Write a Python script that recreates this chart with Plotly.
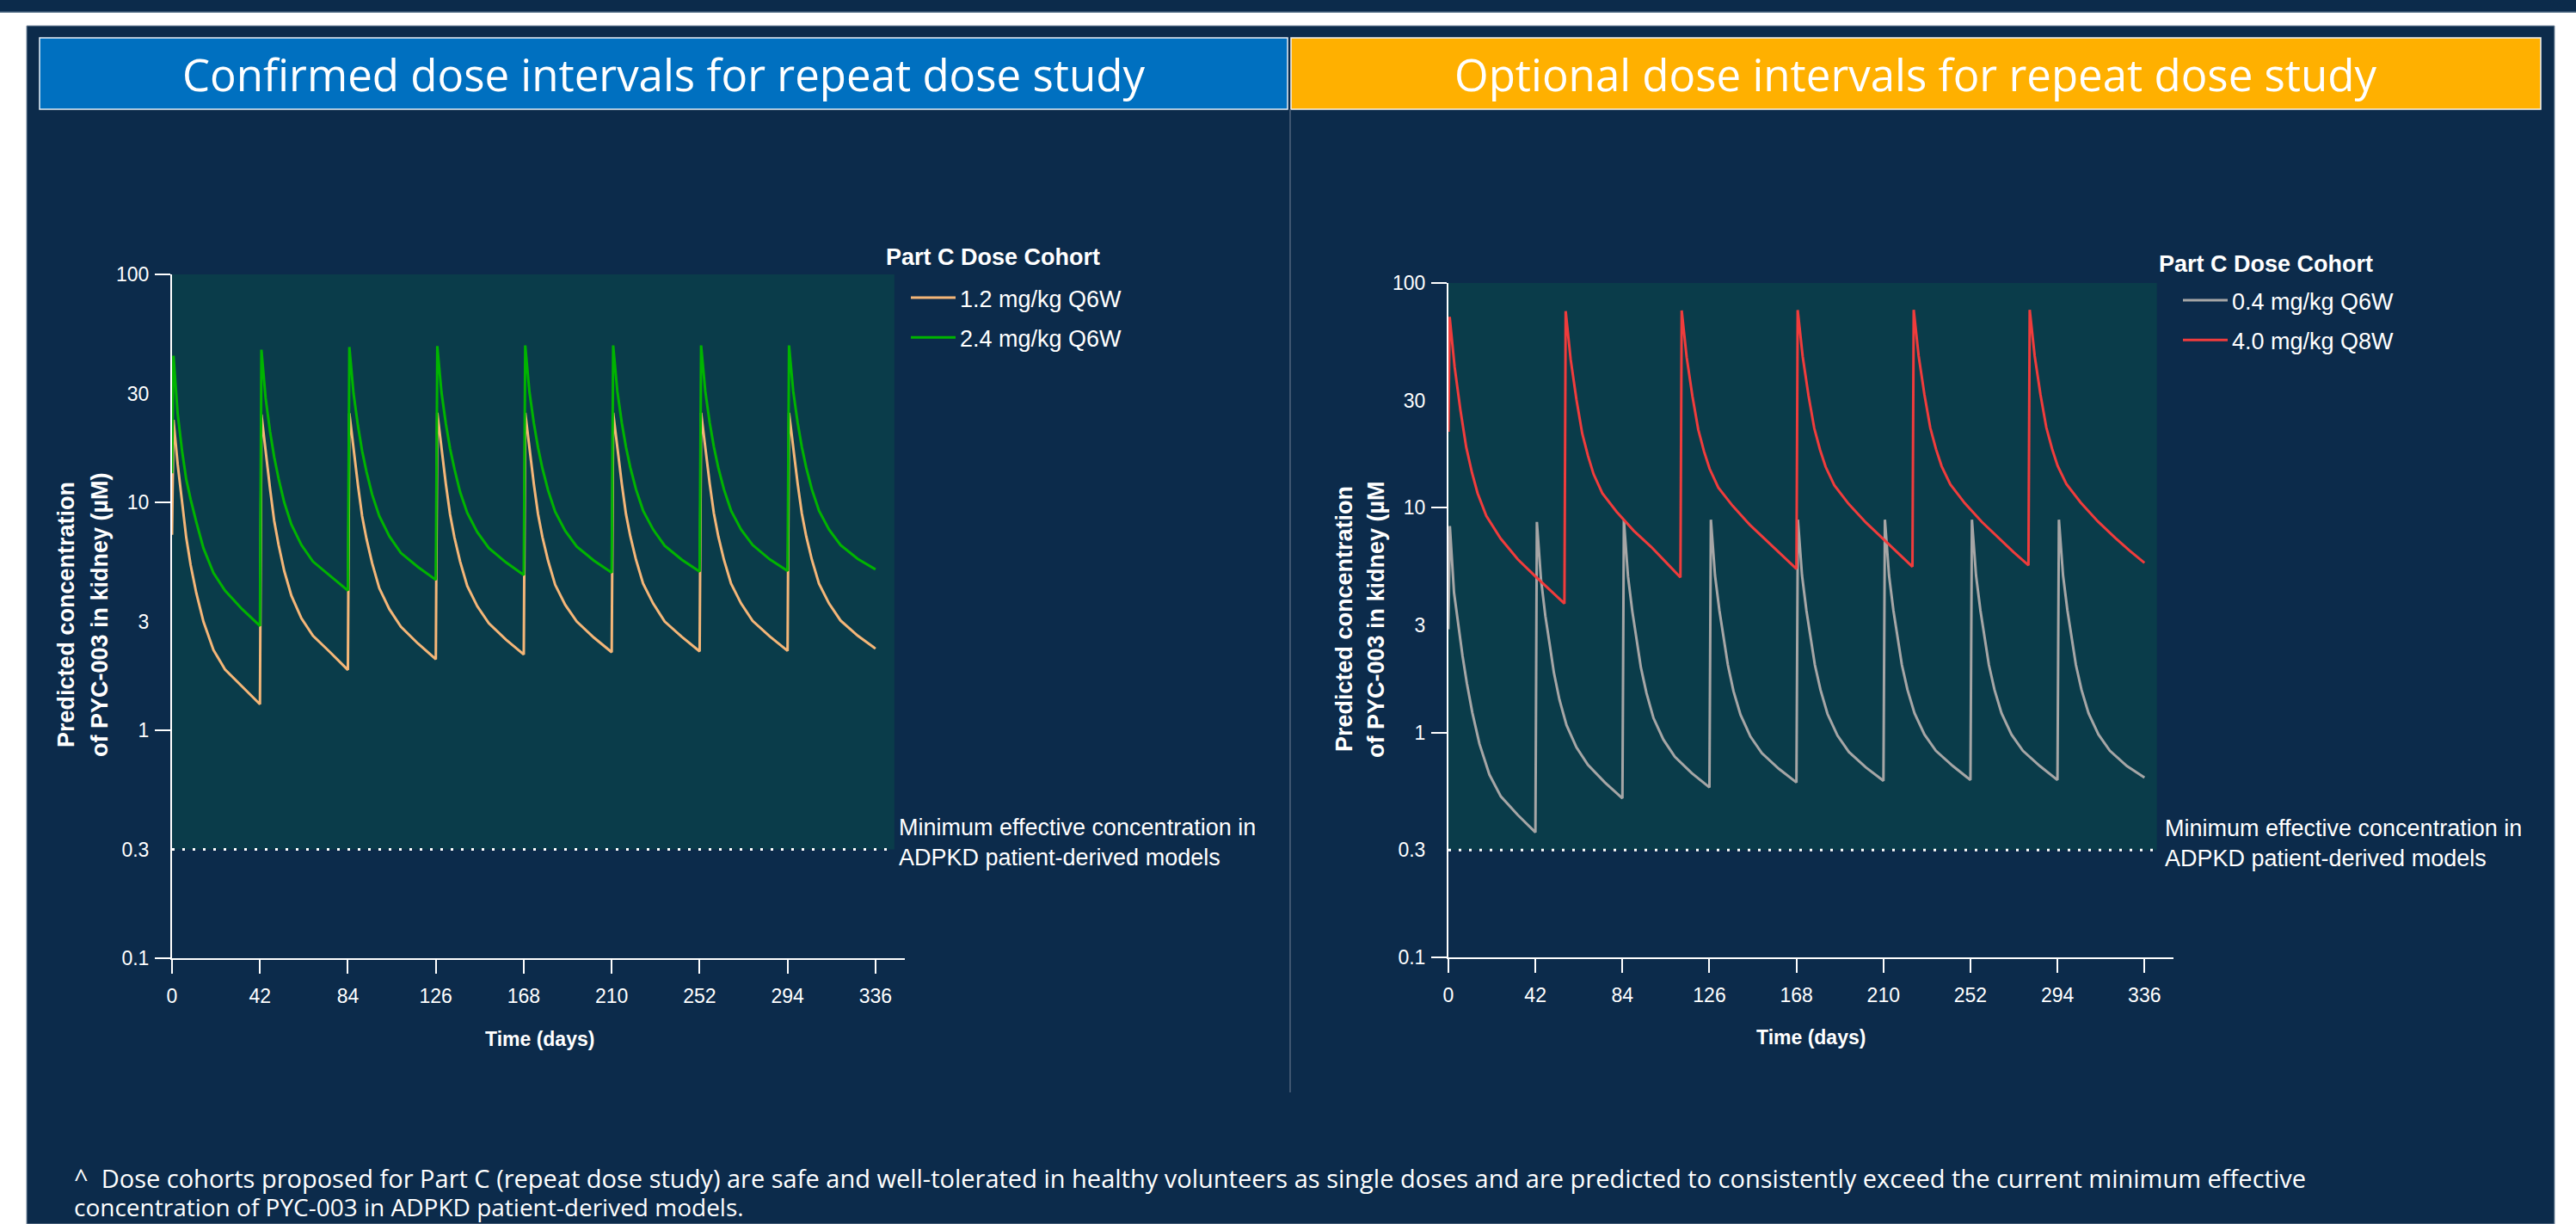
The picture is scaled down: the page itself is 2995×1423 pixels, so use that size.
import math
import plotly.graph_objects as go

W, H = 2995, 1423

# ---------------- data ----------------
X_TICKS = [0, 42, 84, 126, 168, 210, 252, 294, 336]
Y_TICKS = [0.1, 0.3, 1, 3, 10, 30, 100]
Y_TICK_TEXT = ["0.1", "0.3", "1", "3", "10", "30", "100"]
Y_MAJOR = [0.1, 1, 10, 100]
MEC = 0.3          # minimum effective concentration (uM)
Y_TOP = 100

Q6W_DOSE_DAYS = [0, 42, 84, 126, 168, 210, 252, 294]
Q8W_DOSE_DAYS = [0, 56, 112, 168, 224, 280]
Q6W_OFFSETS = [0.7, 2.7, 4.8, 6.8, 8.9, 11.6, 15.0, 19.8, 25.3, 33.5, 42.0]
Q8W_OFFSETS = [0.6, 3.0, 5.8, 8.6, 11.4, 14.1, 18.3, 25.2, 33.5, 41.9, 48.8, 56.0]

# 1.2 mg/kg Q6W
C12_START = 7.2
C12_CYCLES = [
    [23.0, 14.7, 10.0, 7.0, 5.3, 4.0, 3.0, 2.25, 1.85, 1.55, 1.30],
    [24.3, 16.5, 11.5, 8.3, 6.5, 5.0, 3.9, 3.1, 2.6, 2.2, 1.84],
    [24.6, 16.9, 11.9, 8.7, 6.9, 5.4, 4.2, 3.4, 2.85, 2.4, 2.05],
    [24.7, 17.0, 12.0, 8.85, 7.0, 5.5, 4.3, 3.5, 2.95, 2.5, 2.15],
    [24.7, 17.0, 12.05, 8.9, 7.05, 5.55, 4.35, 3.55, 3.0, 2.55, 2.20],
    [24.7, 17.05, 12.1, 8.9, 7.1, 5.6, 4.4, 3.6, 3.0, 2.57, 2.22],
    [24.7, 17.05, 12.1, 8.95, 7.1, 5.6, 4.4, 3.6, 3.02, 2.58, 2.23],
    [24.7, 17.05, 12.1, 8.95, 7.1, 5.6, 4.4, 3.6, 3.03, 2.6, 2.28],
]
# 2.4 mg/kg Q6W
C24_START = 13.4
C24_CYCLES = [
    [44.0, 24.5, 16.8, 12.6, 10.3, 8.2, 6.3, 4.9, 4.1, 3.4, 2.87],
    [46.7, 28.7, 20.5, 15.8, 12.7, 10.0, 8.0, 6.5, 5.5, 4.75, 4.1],
    [48.0, 30.0, 21.7, 16.8, 13.6, 10.8, 8.7, 7.1, 6.0, 5.2, 4.57],
    [48.5, 30.4, 22.1, 17.2, 14.0, 11.1, 9.0, 7.4, 6.3, 5.45, 4.8],
    [48.8, 30.6, 22.3, 17.4, 14.1, 11.3, 9.1, 7.5, 6.4, 5.55, 4.92],
    [48.8, 30.7, 22.4, 17.5, 14.2, 11.4, 9.2, 7.6, 6.45, 5.6, 4.97],
    [48.8, 30.7, 22.4, 17.5, 14.2, 11.4, 9.2, 7.6, 6.5, 5.62, 5.0],
    [48.8, 30.7, 22.4, 17.5, 14.2, 11.4, 9.2, 7.6, 6.5, 5.65, 5.08],
]
# 0.4 mg/kg Q6W
C04_START = 2.88
C04_CYCLES = [
    [8.3, 4.2, 2.95, 2.2, 1.66, 1.22, 0.89, 0.65, 0.52, 0.43, 0.36],
    [8.65, 4.8, 3.3, 2.5, 1.85, 1.40, 1.08, 0.86, 0.72, 0.60, 0.51],
    [8.8, 4.95, 3.45, 2.6, 1.95, 1.5, 1.16, 0.93, 0.78, 0.66, 0.57],
    [8.85, 5.0, 3.5, 2.65, 2.0, 1.53, 1.2, 0.96, 0.81, 0.69, 0.60],
    [8.85, 5.0, 3.5, 2.65, 2.0, 1.55, 1.21, 0.97, 0.82, 0.70, 0.61],
    [8.85, 5.0, 3.5, 2.65, 2.0, 1.55, 1.22, 0.98, 0.83, 0.71, 0.615],
    [8.85, 5.0, 3.5, 2.65, 2.0, 1.55, 1.22, 0.98, 0.83, 0.71, 0.615],
    [8.85, 5.0, 3.5, 2.65, 2.0, 1.55, 1.22, 0.98, 0.83, 0.71, 0.63],
]
# 4.0 mg/kg Q8W
C40_START = 21.8
C40_CYCLES = [
    [70.7, 42.3, 27.2, 18.6, 14.3, 11.6, 9.2, 7.3, 5.9, 4.96, 4.34, 3.75],
    [75.0, 45.8, 30.3, 21.4, 17.0, 14.1, 11.6, 9.6, 7.9, 6.7, 5.75, 4.9],
    [75.5, 46.8, 31.3, 22.3, 17.8, 14.9, 12.3, 10.2, 8.4, 7.1, 6.15, 5.35],
    [75.8, 47.2, 31.7, 22.6, 18.1, 15.2, 12.6, 10.4, 8.6, 7.25, 6.3, 5.47],
    [76.0, 47.3, 31.8, 22.7, 18.2, 15.3, 12.7, 10.5, 8.65, 7.3, 6.35, 5.55],
    [76.0, 47.4, 31.9, 22.8, 18.3, 15.35, 12.75, 10.55, 8.7, 7.35, 6.45, 5.69],
]

TEAL_END_LEFT = 345
TEAL_END_RIGHT = 342

# ---------------- styles ----------------
NAVY = "#0C2B4B"
TEAL = "#0A3C4A"
BLUE_HDR = "#0070C0"
GOLD_HDR = "#FFB000"
C_ORANGE = "#F4B678"
C_GREEN = "#00B400"
C_GRAY = "#A6A6A6"
C_RED = "#F03C3C"
SANS = "Liberation Sans, Arial, Helvetica, sans-serif"
HDR_FONT = "Open Sans, Noto Sans, sans-serif"
WHITE = "white"


def px_x(v):
    return v / W


def px_y(v):
    return 1 - v / H


def series(start, doses, offsets, cycles):
    xs, ys = [0], [start]
    for d, vals in zip(doses, cycles):
        for o, v in zip(offsets, vals):
            xs.append(d + o)
            ys.append(v)
    return xs, ys


fig = go.Figure()

TRACES = [
    ("1.2 mg/kg Q6W", C12_START, Q6W_DOSE_DAYS, Q6W_OFFSETS, C12_CYCLES, C_ORANGE, "x", "y", "legend"),
    ("2.4 mg/kg Q6W", C24_START, Q6W_DOSE_DAYS, Q6W_OFFSETS, C24_CYCLES, C_GREEN, "x", "y", "legend"),
    ("0.4 mg/kg Q6W", C04_START, Q6W_DOSE_DAYS, Q6W_OFFSETS, C04_CYCLES, C_GRAY, "x2", "y2", "legend2"),
    ("4.0 mg/kg Q8W", C40_START, Q8W_DOSE_DAYS, Q8W_OFFSETS, C40_CYCLES, C_RED, "x2", "y2", "legend2"),
]
for name, start, doses, offs, cyc, col, xa, ya, lg in TRACES:
    x, y = series(start, doses, offs, cyc)
    fig.add_trace(go.Scatter(x=x, y=y, mode="lines", name=name, legendgroup=name,
                             line=dict(color=col, width=3), xaxis=xa, yaxis=ya, legend=lg))


def xaxis_cfg(domain, anchor):
    return dict(domain=domain, anchor=anchor, range=[0, 350], tickmode="array", tickvals=X_TICKS,
                showline=True, linecolor="white", linewidth=2, ticks="outside", ticklen=16,
                tickwidth=2, tickcolor="white", showgrid=False, zeroline=False,
                ticklabelstandoff=6,
                tickfont=dict(family=SANS, size=23, color="white"), fixedrange=True)


def yaxis_cfg(domain, anchor):
    return dict(domain=domain, anchor=anchor, type="log", range=[-1, 2], tickmode="array",
                tickvals=Y_TICKS, ticktext=Y_TICK_TEXT, ticks="", showline=True,
                linecolor="white", linewidth=2, showgrid=False, zeroline=False,
                ticklabelstandoff=20,
                minor=dict(tickmode="array", tickvals=Y_MAJOR, ticks="outside", ticklen=18,
                           tickwidth=2, tickcolor="white", showgrid=False),
                tickfont=dict(family=SANS, size=23, color="white"), fixedrange=True)


shapes = [
    dict(type="rect", xref="paper", yref="paper", x0=0, x1=1, y0=px_y(14), y1=1,
         fillcolor=NAVY, line=dict(width=0), layer="below"),
    dict(type="line", xref="paper", yref="paper", x0=0, x1=1, y0=px_y(14), y1=px_y(14),
         line=dict(color="#4F6B85", width=1.5), layer="below"),
    dict(type="rect", xref="paper", yref="paper", x0=px_x(31), x1=px_x(2970), y0=0, y1=px_y(30),
         fillcolor=NAVY, line=dict(color="#7C8FA3", width=1), layer="below"),
    dict(type="rect", xref="paper", yref="paper", x0=px_x(46), x1=px_x(1497), y0=px_y(127), y1=px_y(44),
         fillcolor=BLUE_HDR, line=dict(color="#E8EEF5", width=1.5), layer="below"),
    dict(type="rect", xref="paper", yref="paper", x0=px_x(1501), x1=px_x(2954), y0=px_y(127), y1=px_y(44),
         fillcolor=GOLD_HDR, line=dict(color="#F2F2F2", width=1.5), layer="below"),
    dict(type="line", xref="paper", yref="paper", x0=px_x(1500), x1=px_x(1500), y0=px_y(1270), y1=px_y(127),
         line=dict(color="#50657C", width=1.5), layer="below"),
    dict(type="rect", xref="x", yref="y", x0=0, x1=TEAL_END_LEFT, y0=MEC, y1=Y_TOP,
         fillcolor=TEAL, line=dict(width=0), layer="below"),
    dict(type="rect", xref="x2", yref="y2", x0=0, x1=TEAL_END_RIGHT, y0=MEC, y1=Y_TOP,
         fillcolor=TEAL, line=dict(width=0), layer="below"),
    dict(type="line", xref="x", yref="y", x0=0, x1=TEAL_END_LEFT, y0=MEC, y1=MEC,
         line=dict(color="white", width=3, dash="3px,9px"), layer="below"),
    dict(type="line", xref="x2", yref="y2", x0=0, x1=TEAL_END_RIGHT, y0=MEC, y1=MEC,
         line=dict(color="white", width=3, dash="3px,9px"), layer="below"),
]


def txt(text, x, y, size, family=SANS, xanchor="center", angle=0, **kw):
    d = dict(text=text, xref="paper", yref="paper", x=px_x(x), y=px_y(y), xanchor=xanchor,
             yanchor="middle", showarrow=False, textangle=angle,
             font=dict(family=family, size=size, color=WHITE))
    d.update(kw)
    return d


MEC_TEXT = "Minimum effective concentration in<br>ADPKD patient-derived models"
annotations = [
    txt("Confirmed dose intervals for repeat dose study", 771, 86, 51, HDR_FONT),
    txt("Optional dose intervals for repeat dose study", 2227, 86, 51, HDR_FONT),
    # legend titles
    txt("<b>Part C Dose Cohort</b>", 1028, 299, 27, xanchor="left"),
    txt("<b>Part C Dose Cohort</b>", 2508, 307, 27, xanchor="left"),
    # y axis titles
    txt("<b>Predicted concentration</b>", 77, 715, 27, angle=-90),
    txt("<b>of PYC-003 in kidney (µM)</b>", 116, 715, 27, angle=-90),
    txt("<b>Predicted concentration</b>", 1563, 720, 27, angle=-90),
    txt("<b>of PYC-003 in kidney (µM</b>", 1600, 720, 27, angle=-90),
    # x axis titles
    txt("<b>Time (days)</b>", 627, 1208, 23),
    txt("<b>Time (days)</b>", 2105, 1206, 23),
    # MEC labels (anchored to the MEC level on each chart)
    dict(text=MEC_TEXT, xref="x", yref="y", x=TEAL_END_LEFT, y=math.log10(MEC), xanchor="left",
         yanchor="middle", align="left", xshift=3, yshift=8, showarrow=False,
         font=dict(family=SANS, size=27, color=WHITE)),
    dict(text=MEC_TEXT, xref="x2", yref="y2", x=TEAL_END_RIGHT, y=math.log10(MEC), xanchor="left",
         yanchor="middle", align="left", xshift=7, yshift=8, showarrow=False,
         font=dict(family=SANS, size=27, color=WHITE)),
    # footnote
    txt("^  Dose cohorts proposed for Part C (repeat dose study) are safe and well-tolerated in healthy "
        "volunteers as single doses and are predicted to consistently exceed the current minimum effective",
        84, 1369, 29, HDR_FONT, xanchor="left"),
    txt("concentration of PYC-003 in ADPKD patient-derived models.", 84, 1403, 28, HDR_FONT, xanchor="left"),
]

legend_common = dict(xanchor="left", yanchor="top", bgcolor="rgba(0,0,0,0)", borderwidth=0,
                     font=dict(family=SANS, size=27, color=WHITE), itemwidth=52,
                     tracegroupgap=8, traceorder="grouped")

fig.update_layout(
    width=W, height=H,
    margin=dict(l=0, r=0, t=0, b=0, autoexpand=False),
    paper_bgcolor="white",
    plot_bgcolor="rgba(0,0,0,0)",
    showlegend=True,
    xaxis=xaxis_cfg([px_x(200), px_x(1052)], "y"),
    yaxis=yaxis_cfg([px_y(1114), px_y(319)], "x"),
    xaxis2=xaxis_cfg([px_x(1684), px_x(2527)], "y2"),
    yaxis2=yaxis_cfg([px_y(1113), px_y(329)], "x2"),
    legend=dict(x=px_x(1054), y=px_y(322), **legend_common),
    legend2=dict(x=px_x(2533), y=px_y(325), **legend_common),
    shapes=shapes,
    annotations=annotations,
)

fig.write_html("out.html", config={"displayModeBar": False},
               post_script="document.body.style.margin='0';document.body.style.overflow='hidden';")
